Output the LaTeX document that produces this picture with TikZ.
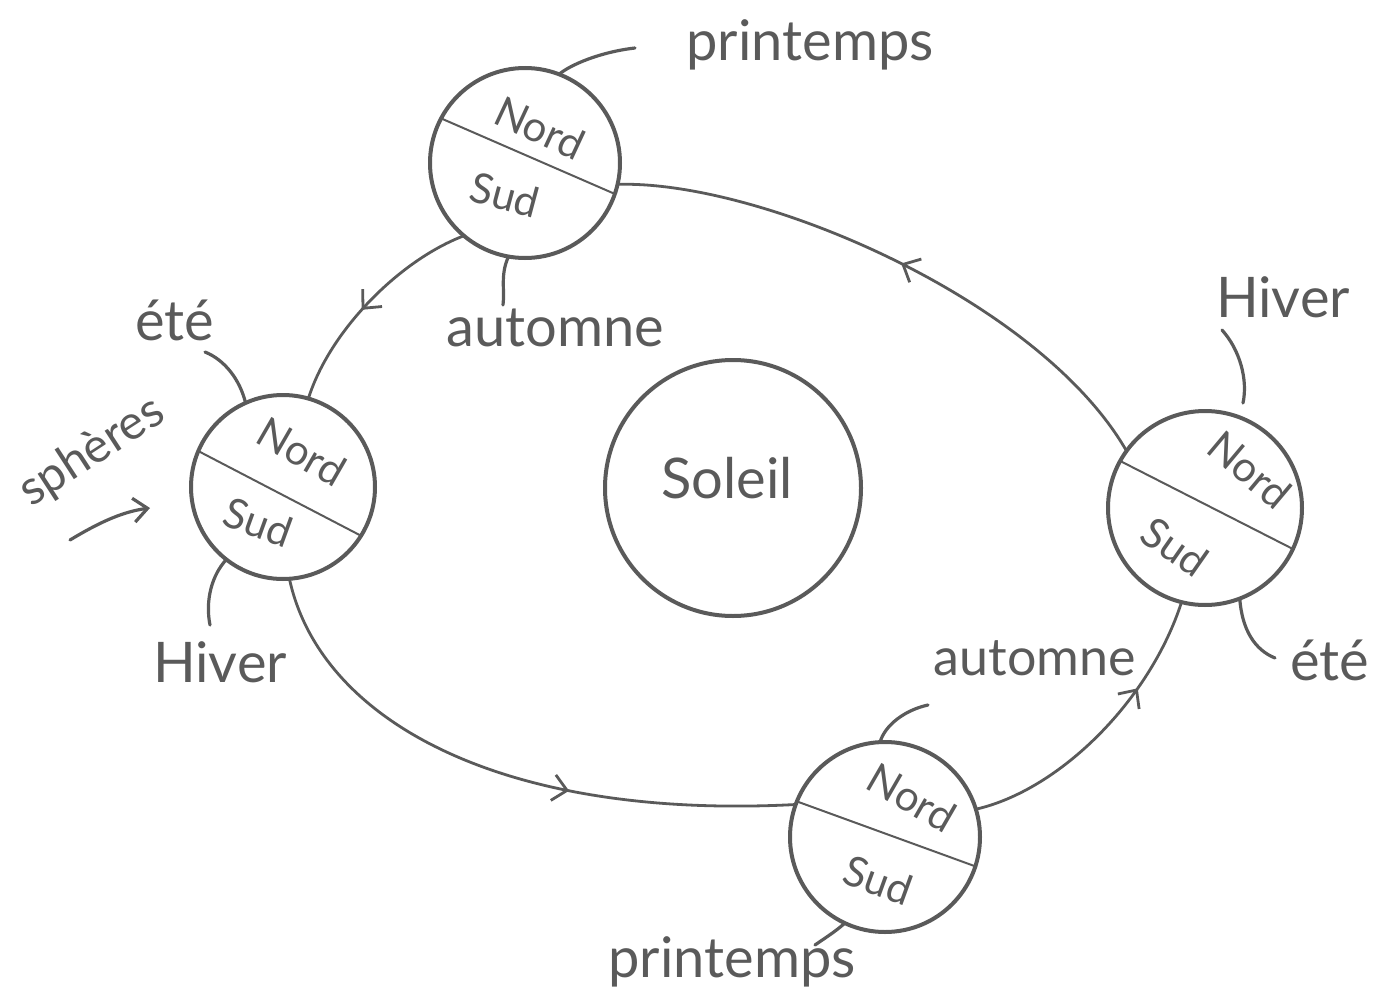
\documentclass[tikz,border=0pt]{standalone}
\usepackage{fontspec}
\setmainfont{Lato}
\usetikzlibrary{arrows.meta,decorations.markings}
\definecolor{ink}{HTML}{5A5A5A}
\tikzset{
  globe/.style={circle,draw=ink,line width=2pt,minimum size=95pt,inner sep=0pt,outer sep=0pt},
  sunc/.style={circle,draw=ink,line width=2pt,minimum size=128pt,inner sep=0pt,outer sep=0pt},
  divider/.style={draw=ink,line width=1pt},
  orbit/.style={draw=ink,line width=1.4pt},
  leader/.style={draw=ink,line width=1.6pt,line cap=round},
  hemi/.style={text=ink,font=\fontsize{21}{24}\selectfont,inner sep=0pt},
  lbl/.style={text=ink,font=\fontsize{28}{32}\selectfont,inner sep=0pt},
  midarrow/.style={postaction={decorate},decoration={markings,
     mark=at position #1 with {\arrow{Straight Barb[length=7pt,width=13pt,line width=1.4pt]}}}}
}
\begin{document}
\begin{tikzpicture}[x=0.5pt,y=-0.5pt]
\useasboundingbox (0,0) rectangle (1399,1001);
% globes
\node[globe] (T) at (525,163) {};
\node[globe,minimum size=92pt] (L) at (283,487) {};
\node[globe,minimum size=97pt] (R) at (1205,508) {};
\node[globe] (B) at (885,837) {};
\node[sunc] (S) at (733,488) {};
\node[lbl] (soleil) at (727,478) {Soleil};
% dividers
\draw[divider] (T.152) -- (T.-19);
\draw[divider] (L.157) -- (L.-32);
\draw[divider] (R.151) -- (R.-25);
\draw[divider] (B.158) -- (B.-18);
% hemisphere labels
\node[hemi,rotate=-25] (tn) at (540,128) {Nord};
\node[hemi,rotate=-15] (ts) at (505,195) {Sud};
\node[hemi,rotate=-30] (ln) at (302,452) {Nord};
\node[hemi,rotate=-20] (ls) at (258,522) {Sud};
\node[hemi,rotate=-40] (rn) at (1250,470) {Nord};
\node[hemi,rotate=-35] (rs) at (1175,547) {Sud};
\node[hemi,rotate=-30] (bn) at (912,798) {Nord};
\node[hemi,rotate=-20] (bs) at (878,880) {Sud};
% orbit
\draw[orbit,midarrow=0.5] (R.144) .. controls (1040,300) and (760,180) .. (T.-13);
\draw[orbit,midarrow=0.55] (T.-130) .. controls (400,260) and (330,330) .. (L.74);
\draw[orbit,midarrow=0.62] (L.-86) .. controls (320,720) and (500,820) .. (B.160);
\draw[orbit,midarrow=0.68] (B.17) .. controls (1060,790) and (1150,700) .. (R.-104);
% labels
\node[lbl] (p1) at (810,45) {printemps};
\node[lbl] (a1) at (555,328) {automne};
\node[lbl] (e1) at (175,320) {été};
\node[lbl,font=\fontsize{24}{28}\selectfont,rotate=33] (sph) at (92,452) {sphères};
\node[lbl] (h1) at (220,662) {Hiver};
\node[lbl] (h2) at (1283,297) {Hiver};
\node[lbl] (e2) at (1330,660) {été};
\node[lbl,font=\fontsize{26}{30}\selectfont] (a2) at (1035,658) {automne};
\node[lbl] (p2) at (732,962) {printemps};
% leader coordinates
\coordinate (cp1) at (635,48);
\coordinate (ca1) at (503,305);
\coordinate (ce1) at (205,352);
\coordinate (ch1) at (210,625);
\coordinate (ch2a) at (1222,330);
\coordinate (ch2b) at (1243,403);
\coordinate (ce2) at (1275,658);
\coordinate (ca2) at (928,705);
\coordinate (cp2) at (815,945);
\coordinate (sa) at (70,540);
\coordinate (sb) at (150,508);
% leaders
\draw[leader] (cp1) .. controls (600,52) and (570,65) .. (T.69);
\draw[leader] (T.-100) .. controls (500,275) and (505,290) .. (ca1);
\draw[leader] (L.114) .. controls (240,380) and (225,360) .. (ce1);
\draw[leader] (L.-128) .. controls (212,575) and (205,600) .. (ch1);
\draw[leader] (ch2a) .. controls (1240,350) and (1248,380) .. (ch2b);
\draw[leader] (R.-69) .. controls (1242,630) and (1255,650) .. (ce2);
\draw[leader] (ca2) .. controls (905,710) and (885,725) .. (B.93);
\draw[leader] (B.-115) .. controls (835,932) and (822,940) .. (cp2);
\draw[leader,-{Straight Barb[length=7pt,width=12pt,line width=1.6pt]}] (sa) .. controls (95,525) and (120,512) .. (sb);
\end{tikzpicture}
\end{document}
